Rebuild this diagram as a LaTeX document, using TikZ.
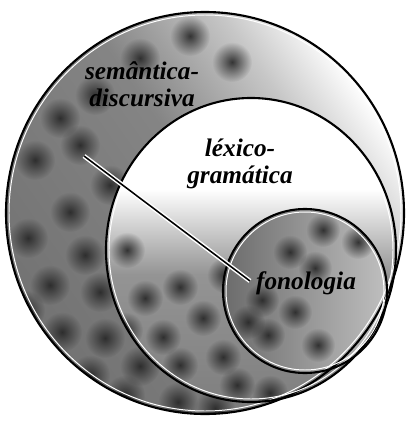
\documentclass[tikz,border=0pt]{standalone}
\usepackage{fontspec}
\setmainfont{Liberation Serif}
\usetikzlibrary{fadings}

\pgfdeclareverticalshading{lexshade}{100bp}{color(0bp)=(black!50); color(25bp)=(black!50); color(46bp)=(black!42); color(60bp)=(white); color(100bp)=(white)}
\pgfdeclareverticalshading{semshade}{100bp}{color(0bp)=(black!55); color(25bp)=(black!55); color(52bp)=(black!48); color(66bp)=(black!22); color(75bp)=(white); color(100bp)=(white)}
\tikzfading[name=spotfade, inner color=transparent!10, outer color=transparent!100]

\tikzset{
  ring/.style={draw=black, line width=1.5pt},
  rim/.style={draw=white, line width=0.7pt},
  spot/.style={fill=black!85, path fading=spotfade},
  stratum/.style={font=\fontsize{18}{19.5}\selectfont\bfseries\itshape, align=center, inner sep=0pt},
  link/.style={draw=black, line width=1.1pt, preaction={draw=white, line width=3.2pt}}
}

\begin{document}
\begin{tikzpicture}[x=0.025cm, y=-0.025cm]
  \useasboundingbox (0,0) rectangle (413,421);

  % semantica-discursiva
  \fill[shading=semshade, shading angle=-55] (205,213) ellipse [x radius=199, y radius=201];
  \begin{scope}
    \clip (205,213) ellipse [x radius=199, y radius=201];
    \foreach \px/\py in {190/36,140/58,232/62,95/95,60/118,80/145,35/160,110/185,70/212,28/238,85/255,50/285,100/292,25/310,62/332,105/338,140/366,90/375,125/395,178/402,215/408}
      \fill[spot] (\px,\py) circle (20);
  \end{scope}

  % lexico-gramatica
  \fill[shading=lexshade] (251,250) ellipse [x radius=145, y radius=152];
  \begin{scope}
    \clip (251,250) ellipse [x radius=145, y radius=152];
    \foreach \px/\py in {127/250,180/287,145/298,203/318,163/337,223/357,180/365,237/385,270/393,125/330,225/275}
      \fill[spot] (\px,\py) circle (18);
  \end{scope}

  % fonologia
  \fill[left color=black!58, right color=black!25] (305,291) circle (82);
  \begin{scope}
    \clip (305,291) circle (82);
    \foreach \px/\py in {323/230,358/242,290/252,315/268,262/300,295/312,268/335,318/345,248/322}
      \fill[spot] (\px,\py) circle (17);
  \end{scope}

  % contornos
  \draw[rim] (205,213) ellipse [x radius=196, y radius=198];
  \draw[ring] (205,213) ellipse [x radius=199, y radius=201];
  \draw[rim] (251,250) ellipse [x radius=142, y radius=149];
  \draw[ring] (251,250) ellipse [x radius=145, y radius=152];
  \draw[rim] (305,291) circle (79);
  \draw[ring] (305,291) circle (82);

  \coordinate (linkA) at (84,156);
  \coordinate (linkB) at (250,281);
  \draw[link] (linkA) -- (linkB);

  \node[stratum] (sem) at (142,84) {semântica-\\discursiva};
  \node[stratum] (lex) at (240,164) {léxico-\\gramática};
  \node[stratum] (fon) at (306,283) {fonologia};
\end{tikzpicture}
\end{document}
